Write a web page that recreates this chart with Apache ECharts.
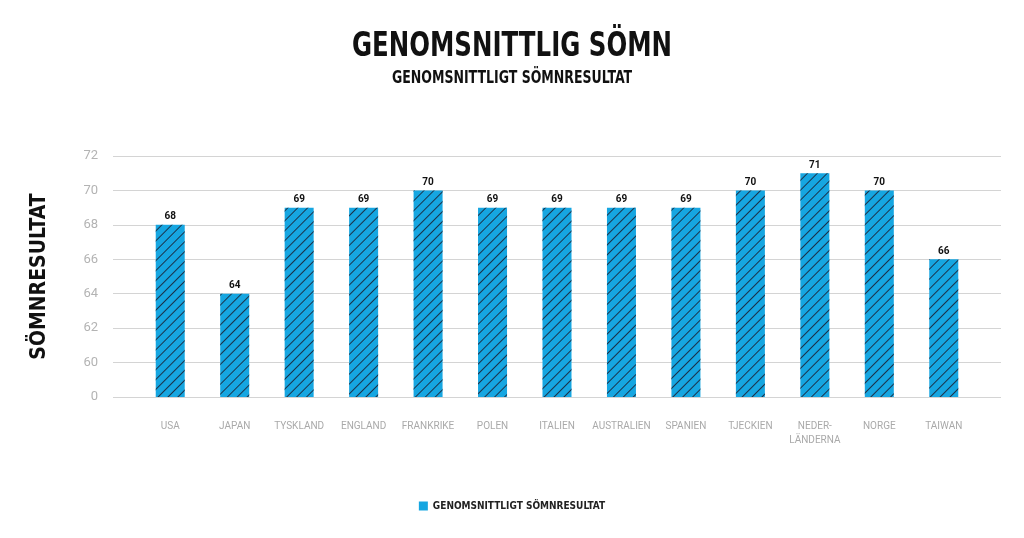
<!DOCTYPE html>
<html>
<head>
<meta charset="utf-8">
<script src="https://cdn.jsdelivr.net/npm/echarts@6/dist/echarts.min.js"></script>
<style>
  html, body { margin: 0; padding: 0; background: #fff; }
  #chart { width: 1024px; height: 538px; }
</style>
</head>
<body>
<div id="chart"></div>
<script>
// data
const countries = ['USA', 'JAPAN', 'TYSKLAND', 'ENGLAND', 'FRANKRIKE', 'POLEN', 'ITALIEN',
  'AUSTRALIEN', 'SPANIEN', 'TJECKIEN', 'NEDER-\nLÄNDERNA', 'NORGE', 'TAIWAN']
const sleepScore = [68, 64, 69, 69, 70, 69, 69, 69, 69, 70, 71, 70, 66]
// broken axis: bottom tick stands for 0, the rest are real values
const yTicks = [58, 60, 62, 64, 66, 68, 70, 72]
const seriesName = 'GENOMSNITTLIGT SÖMNRESULTAT'

const condensed = '"DejaVu Sans Condensed", "Liberation Sans Narrow", Roboto, sans-serif'
const BLUE = '#16a6e1'

const chart = echarts.init(document.getElementById('chart'))

const yMin = yTicks[0]
const yMax = yTicks[yTicks.length - 1]

chart.setOption({
  animation: false,
  backgroundColor: '#fff',
  // titles drawn as squeezed text so they look like the narrow font of the original
  graphic: [
    {
      type: 'text',
      left: 'center',
      top: 30,
      scaleX: 0.8,
      style: {
        text: 'GENOMSNITTLIG SÖMN',
        font: 'bold 34px ' + condensed,
        fill: '#111'
      }
    },
    {
      type: 'text',
      left: 'center',
      top: 70,
      scaleX: 0.82,
      style: {
        text: 'GENOMSNITTLIGT SÖMNRESULTAT',
        font: 'bold 17px ' + condensed,
        fill: '#111'
      }
    }
  ],
  legend: {
    bottom: 22,
    left: 'center',
    itemWidth: 9,
    itemHeight: 9,
    itemGap: 6,
    data: [{ name: seriesName, icon: 'rect', itemStyle: { color: BLUE, decal: 'none' } }],
    textStyle: { fontFamily: condensed, fontWeight: 'bold', fontSize: 10, color: '#222' }
  },
  grid: [
    { left: 138, right: 48, top: 156, bottom: 141 },
    { left: 113, right: 23, top: 156, bottom: 141 }
  ],
  xAxis: [
    {
      type: 'category',
      gridIndex: 0,
      data: countries,
      axisLine: { show: false },
      axisTick: { show: false },
      axisLabel: {
        margin: 22,
        color: '#a9a9a9',
        fontSize: 10,
        lineHeight: 14,
        fontFamily: 'Roboto, sans-serif',
        interval: 0
      }
    },
    {
      type: 'value',
      gridIndex: 1,
      show: false
    }
  ],
  yAxis: [
    {
      type: 'value',
      gridIndex: 0,
      min: yMin,
      max: yMax,
      interval: 2,
      show: false,
      splitLine: { show: false }
    },
    {
      type: 'value',
      gridIndex: 1,
      min: yMin,
      max: yMax,
      interval: 2,
      name: 'SÖMNRESULTAT',
      nameLocation: 'middle',
      nameGap: 63,
      nameTextStyle: { fontFamily: condensed, fontWeight: 'bold', fontSize: 21, color: '#111' },
      axisLine: { show: false },
      axisTick: { show: false },
      axisLabel: {
        margin: 15,
        color: '#b3b3b3',
        fontSize: 13,
        fontFamily: 'Roboto, sans-serif',
        formatter: (v) => (v === yMin ? '0' : String(v))
      },
      splitLine: { lineStyle: { color: '#d4d4d4', width: 1 } }
    }
  ],
  series: [
    {
      name: seriesName,
      type: 'bar',
      xAxisIndex: 0,
      yAxisIndex: 0,
      barWidth: 29,
      data: sleepScore,
      itemStyle: {
        color: BLUE,
        decal: {
          symbol: 'rect',
          color: '#1a3149',
          dashArrayX: [1, 0],
          dashArrayY: [1, 5.6],
          rotation: -Math.PI / 4
        }
      },
      label: {
        show: true,
        position: 'top',
        distance: 3,
        color: '#111',
        fontSize: 10,
        fontWeight: 'bold',
        fontFamily: 'Roboto, sans-serif'
      }
    }
  ]
})
</script>
</body>
</html>
